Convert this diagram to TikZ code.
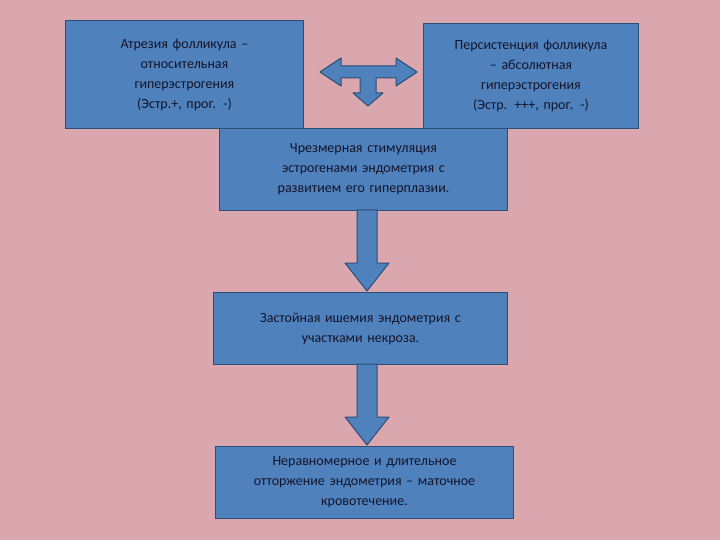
\documentclass[tikz,border=0pt]{standalone}
\usepackage{fontspec}
\setmainfont{Carlito}
\definecolor{bg}{HTML}{D9A7AD}
\definecolor{boxf}{HTML}{4F81BD}
\definecolor{boxd}{HTML}{2C4D75}
\definecolor{txt}{HTML}{141428}
\begin{document}
\begin{tikzpicture}[x=1pt,y=-1pt,
  bx/.style={draw=boxd,line width=1pt,fill=boxf,text=txt,align=center,inner sep=2pt,font=\fontsize{14}{20}\selectfont},
  arr/.style={draw=boxd,line width=1pt,fill=boxf,line join=round}]
\fill[bg] (0,0) rectangle (720,540);
\useasboundingbox (0,0) rectangle (720,540);
\node[bx,minimum width=238,minimum height=108,anchor=north west,text width=225] (b1) at (65,20) {Атрезия фолликула –\\ относительная\\ гиперэстрогения\\ (Эстр.+, прог. -)};
\node[bx,minimum width=215,minimum height=105,anchor=north west,text width=205] (b2) at (423,23) {Персистенция фолликула\\ – абсолютная\\ гиперэстрогения\\ (Эстр. +++, прог. -)};
\node[bx,minimum width=288,minimum height=82,anchor=north west,text width=275] (b3) at (219,128) {Чрезмерная стимуляция\\ эстрогенами эндометрия с\\ развитием его гиперплазии.};
\node[bx,minimum width=294,minimum height=72,anchor=north west,text width=280] (b4) at (213,292) {Застойная ишемия эндометрия с\\ участками некроза.};
\node[bx,minimum width=298,minimum height=72,anchor=north west,text width=285] (b5) at (215,446) {Неравномерное и длительное\\ отторжение эндометрия – маточное\\ кровотечение.};
% T arrow
\draw[arr] (320,72) -- (341,58) -- (341,66) -- (396,66) -- (396,58) -- (417,72) -- (396,86) -- (396,78) -- (376,78) -- (376,93) -- (383,93) -- (368,106) -- (353,93) -- (360,93) -- (360,78) -- (341,78) -- (341,86) -- cycle;
% down arrows
\draw[arr] (357,210) -- (377,210) -- (377,263) -- (389,263) -- (367,291) -- (345,263) -- (357,263) -- cycle;
\draw[arr] (357,364) -- (377,364) -- (377,417) -- (389,417) -- (367,445) -- (345,417) -- (357,417) -- cycle;
\end{tikzpicture}
\end{document}
